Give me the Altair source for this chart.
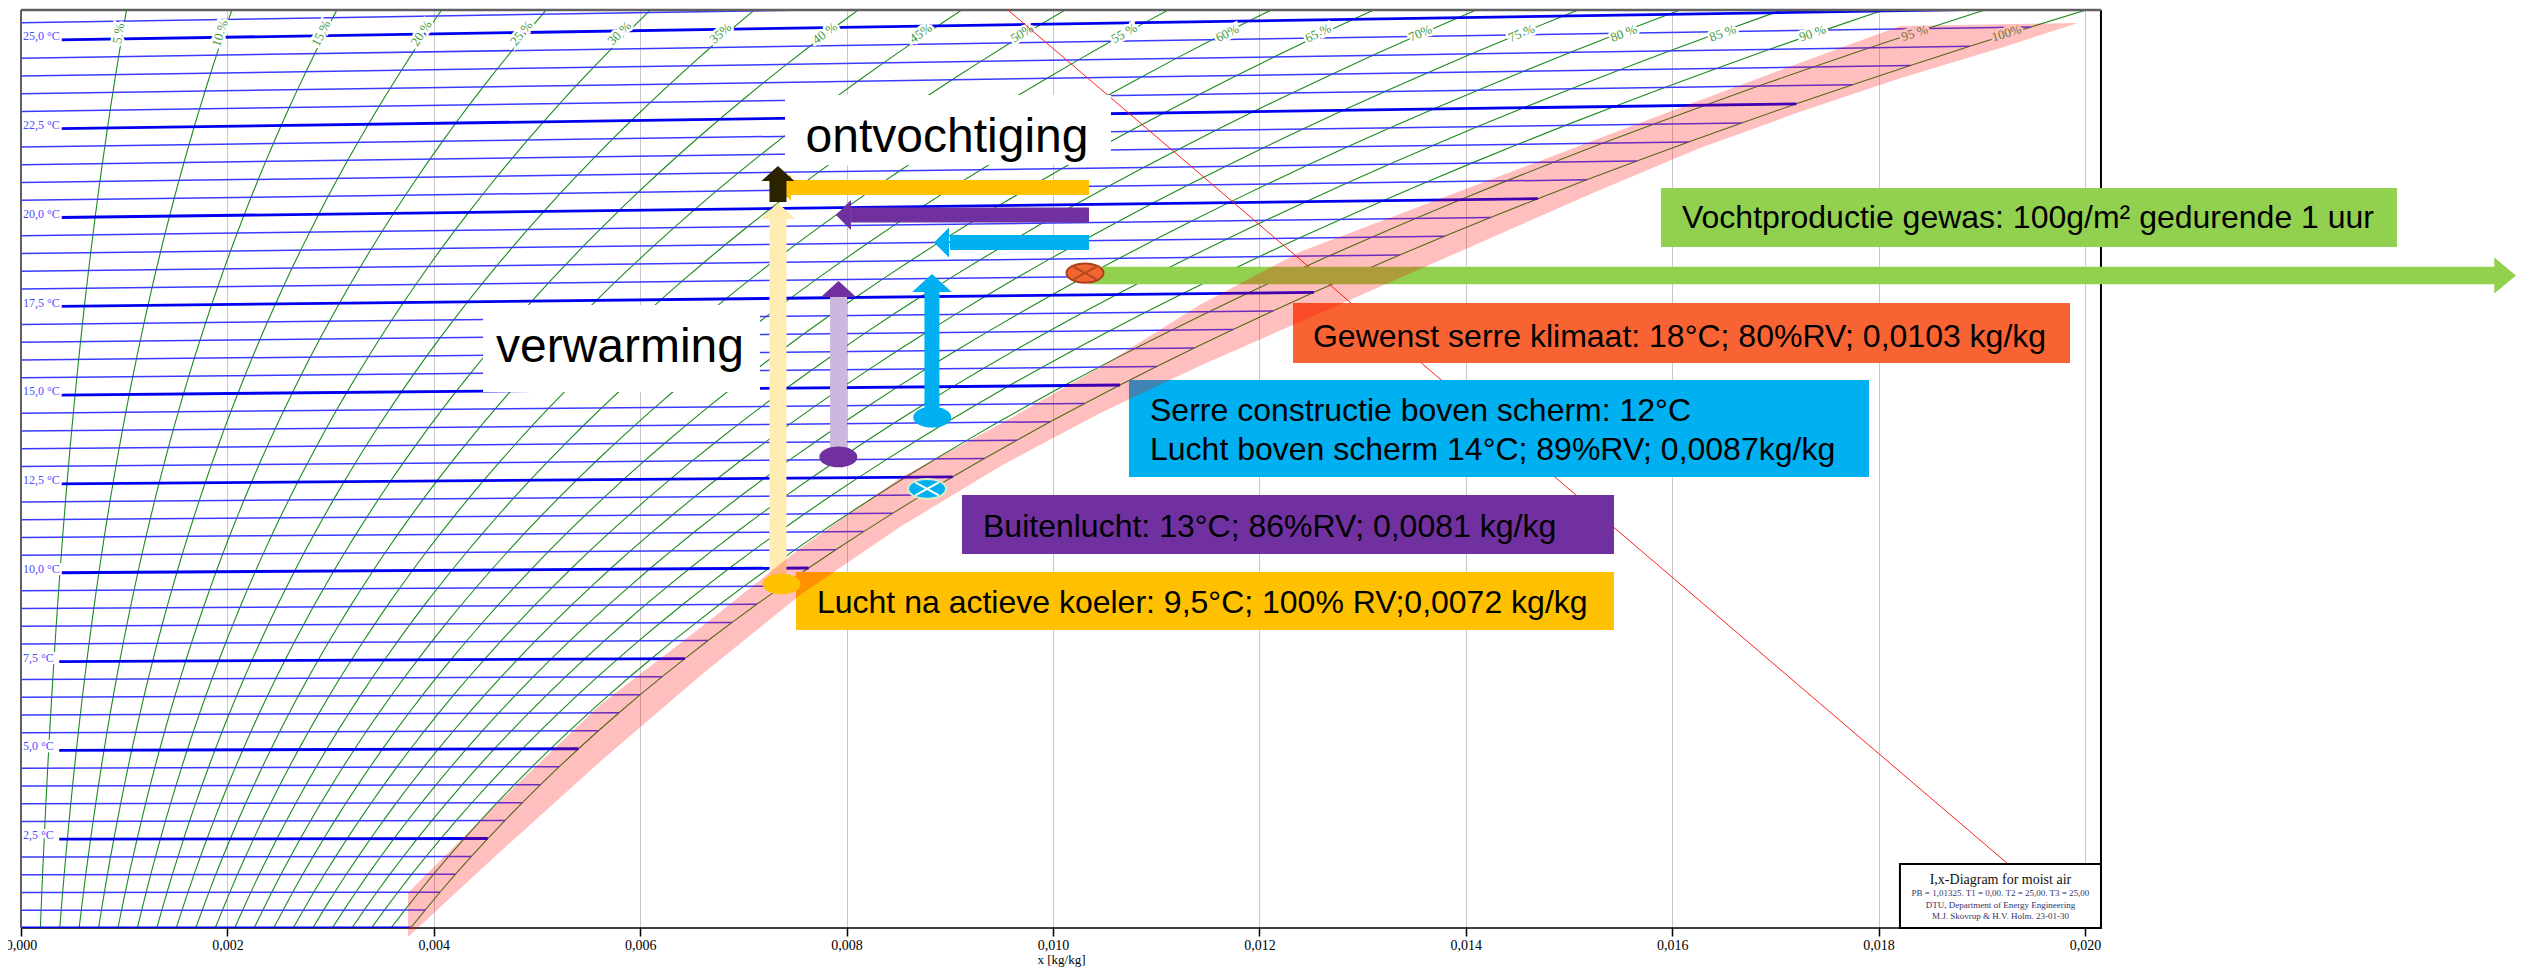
import math
import altair as alt
import pandas as pd

# ---------------- data ----------------
P_ATM = 101.325            # kPa
SKEW = 1.86 / 1.006        # Mollier skew of the isotherms

iso_temps = [0.0, 0.5, 1.0, 1.5, 2.0, 2.5, 3.0, 3.5, 4.0, 4.5, 5.0, 5.5, 6.0, 6.5, 7.0, 7.5,
             8.0, 8.5, 9.0, 9.5, 10.0, 10.5, 11.0, 11.5, 12.0, 12.5, 13.0, 13.5, 14.0, 14.5,
             15.0, 15.5, 16.0, 16.5, 17.0, 17.5, 18.0, 18.5, 19.0, 19.5, 20.0, 20.5, 21.0,
             21.5, 22.0, 22.5, 23.0, 23.5, 24.0, 24.5, 25.0, 25.5, 26.0]
sat_pressure_kpa = [0.6112, 0.6339, 0.6571, 0.6809, 0.7060, 0.7315, 0.7581, 0.7853, 0.8135,
                    0.8425, 0.8725, 0.9034, 0.9353, 0.9682, 1.0021, 1.0372, 1.0730, 1.1103,
                    1.1482, 1.1878, 1.2282, 1.2700, 1.3129, 1.3573, 1.4028, 1.4497, 1.4981,
                    1.5480, 1.5989, 1.6516, 1.7057, 1.7615, 1.8188, 1.8778, 1.9383, 2.0006,
                    2.0647, 2.1305, 2.1982, 2.2677, 2.3392, 2.4126, 2.4881, 2.5656, 2.6452,
                    2.7270, 2.8110, 2.8972, 2.9856, 3.0766, 3.1699, 3.2657, 3.3640]
rh_levels = [5, 10, 15, 20, 25, 30, 35, 40, 45, 50, 55, 60, 65, 70, 75, 80, 85, 90, 95, 100]
rh_label_x = [0.000946, 0.00193, 0.00291, 0.00388, 0.00485, 0.00580, 0.00678, 0.00779,
              0.00872, 0.00970, 0.01069, 0.01169, 0.01257, 0.01356, 0.01454, 0.01553,
              0.01649, 0.01736, 0.01835, 0.01924]
rh_label_text = ["5 %", "10 %", "15 %", "20 %", "25 %", "30 %", "35%", "40 %", "45%", "50%",
                 "55 %", "60%", "65 %", "70%", "75 %", "80 %", "85 %", "90 %", "95 %", "100%"]
RH_LABEL_Y = 25.2
temp_label_values = [2.5, 5.0, 7.5, 10.0, 12.5, 15.0, 17.5, 20.0, 22.5, 25.0]
temp_label_text = ["2,5 °C", "5,0 °C", "7,5 °C", "10,0 °C", "12,5 °C", "15,0 °C",
                   "17,5 °C", "20,0 °C", "22,5 °C", "25,0 °C"]
x_tick_values = [0.000, 0.002, 0.004, 0.006, 0.008, 0.010, 0.012, 0.014, 0.016, 0.018, 0.020]

# pink band along the saturation curve
band_x = [0.00375, 0.00464, 0.00561, 0.00658, 0.00755, 0.00852, 0.00949, 0.01046, 0.01142,
          0.01239, 0.01336, 0.01433, 0.01530, 0.01627, 0.01724, 0.01821, 0.01918, 0.01993]
band_upper = [0.99, 3.58, 6.28, 8.45, 10.70, 12.68, 14.20, 15.80, 17.55, 19.04, 20.11, 21.18,
              22.25, 23.32, 24.37, 25.41, 25.46, 25.49]
band_lower = [-0.25, 2.14, 4.68, 7.10, 9.38, 11.30, 13.01, 14.51, 15.83, 17.07, 18.31, 19.55,
              20.79, 21.97, 22.99, 23.94, 24.79, 25.49]

# state points (ellipses)
marker_x = [0.01031, 0.00792, 0.00883, 0.00878, 0.00737]
marker_y = [18.45, 13.27, 14.39, 12.37, 9.69]
marker_fill = ["#F26430", "#7030A0", "#00B0F0", "#00B0F0", "#FFC000"]
marker_stroke = ["#A8401E", "#7030A0", "#00B0F0", "#D6EBC6", "#FFC000"]
marker_size = [1369, 1296, 1296, 1444, 1296]

# coloured text boxes
box_x = [0.015891, 0.012326, 0.010736, 0.009118, 0.007510]
box_x2 = [0.023023, 0.019855, 0.017907, 0.015436, 0.015436]
box_y = [20.845, 17.606, 15.437, 12.197, 10.028]
box_y2 = [19.183, 15.915, 12.704, 10.535, 8.394]
box_color = ["#92D050", "#F86333", "#00B0F0", "#7030A0", "#FFC000"]
box_text = ["Vochtproductie gewas: 100g/m² gedurende 1 uur",
            "Gewenst serre klimaat: 18°C; 80%RV; 0,0103 kg/kg",
            "Serre constructie boven scherm: 12°C",
            "Lucht boven scherm 14°C; 89%RV;  0,0087kg/kg",
            "Buitenlucht: 13°C; 86%RV; 0,0081 kg/kg",
            "Lucht na actieve koeler: 9,5°C; 100% RV;0,0072 kg/kg"]
box_text_x = [0.016095, 0.012519, 0.010940, 0.010940, 0.009322, 0.007713]
box_text_y = [19.71, 16.37, 14.27, 13.18, 11.02, 8.86]

# big labels with white backgrounds
big_text = ["ontvochtiging", "verwarming"]
big_text_x = [0.008973, 0.005804]
big_text_y = [21.868, 15.94]
white_x = [0.007403, 0.004477]
white_x2 = [0.010562, 0.007161]
white_y = [23.465, 17.55]
white_y2 = [21.493, 15.10]

# horizontal arrows: shaft start (head base), shaft end, y, width, colour, head tip
harrow_x = [0.007461, 0.008043, 0.009002]
harrow_x2 = [0.010349, 0.010349, 0.010349]
harrow_y = [20.856, 20.085, 19.31]
harrow_w = [15, 15, 15]
harrow_col = ["#FFC000", "#7030A0", "#00B0F0"]
harrow_tip = [0.007335, 0.007897, 0.008847]
harrow_size = [676, 900, 900]
green_arrow = dict(x=0.010349, x2=0.02398, y=18.38, tip=0.024176)

# vertical arrows
varrow_x = [0.007335, 0.007335, 0.007922, 0.008827]
varrow_y = [9.69, 20.45, 13.27, 14.39]
varrow_y2 = [20.02, 21.05, 17.80, 17.95]
varrow_w = [17, 17, 17, 15]
varrow_col = ["#FFECB3", "#2B2200", "#CDB7DE", "#00B0F0"]
varrow_tip = [20.42, 21.465, 18.225, 18.42]
varrow_head_col = ["#FFECB3", "#2B2200", "#7030A0", "#00B0F0"]
varrow_size = [1024, 900, 1024, 1296]

red_line = dict(x=0.009564, y=25.859, x2=0.019254, y2=1.803)

info_box = dict(x=0.018207, x2=0.020155, y=1.803, y2=0.0)
info_text = ["I,x-Diagram for moist air",
             "PB = 1,01325. T1 = 0,00. T2 = 25,00. T3 = 25,00",
             "DTU, Department of Energy Engineering",
             "M.J. Skovrup & H.V. Holm. 23-01-30"]
info_text_y = [1.36, 0.99, 0.65, 0.33]
info_text_size = [14, 9, 9, 9]
info_text_color = ["#111111", "#333366", "#333366", "#333366"]

# ---------------- geometry ----------------
X_MAX = 0.024196
Y_MAX = 25.859
FRAME_X = 0.020155
LABEL_GAP = 0.00037
W, H = 2497, 918
PX_X = W / X_MAX
PX_Y = H / Y_MAX


def ratio(phi, ps):
    return 0.622 * phi * ps / (P_ATM - phi * ps)


def ymap(t, x):
    return t * (1 + SKEW * x)


iso_rows = []
for t, ps in zip(iso_temps, sat_pressure_kpa):
    if t > 25.5:
        continue
    xs = ratio(1.0, ps)
    thick = (t in temp_label_values) or t == 0
    x1 = LABEL_GAP if t in temp_label_values else 0.0
    iso_rows.append(dict(T=t, x=x1, y=ymap(t, x1), x2=xs, y2=ymap(t, xs), thick=thick))
iso_df = pd.DataFrame(iso_rows)

rh_rows = []
for phi in rh_levels:
    for t, ps in zip(iso_temps, sat_pressure_kpa):
        x = ratio(phi / 100.0, ps)
        rh_rows.append(dict(rh=phi, T=t, x=x, y=ymap(t, x)))
rh_df = pd.DataFrame(rh_rows)

i1, i2 = iso_temps.index(24.5), iso_temps.index(25.0)
lab_rows = []
for phi, lx, txt in zip(rh_levels, rh_label_x, rh_label_text):
    xa = ratio(phi / 100.0, sat_pressure_kpa[i1])
    xb = ratio(phi / 100.0, sat_pressure_kpa[i2])
    dxp = (xb - xa) * PX_X
    dyp = (ymap(25.0, xb) - ymap(24.5, xa)) * PX_Y
    ang = (360 - math.degrees(math.atan2(dyp, dxp))) % 360
    lab_rows.append(dict(x=lx, y=RH_LABEL_Y, text=txt, angle=ang))
rh_lab_df = pd.DataFrame(lab_rows)

tlab_df = pd.DataFrame(dict(x=[0.00002] * len(temp_label_values), y=temp_label_values,
                            text=temp_label_text))

# ---------------- encodings ----------------
XS = alt.Scale(domain=[0, X_MAX], nice=False, zero=False)
YS = alt.Scale(domain=[0, Y_MAX], nice=False, zero=False)
XAXIS = alt.Axis(values=x_tick_values,
                 labelExpr="replace(format(datum.value, '.3f'), '.', ',')",
                 title="x [kg/kg]", titleFont="Liberation Serif", titleFontSize=13,
                 titleFontWeight="normal", titleColor="black", titleX=1040, titleY=31,
                 titleAlign="center", titleBaseline="middle",
                 labelFont="Liberation Serif", labelFontSize=14, labelColor="black",
                 labelPadding=2, labelFlush=False, labelOverlap=False,
                 domain=False, ticks=True, tickColor="black", tickSize=8, tickWidth=1.5,
                 grid=True, gridColor="#c8c8c8", gridWidth=1)


def X(f="x"):
    return alt.X(f, type="quantitative", scale=XS, axis=XAXIS)


def Y(f="y"):
    return alt.Y(f, type="quantitative", scale=YS, axis=None)


def base(df):
    return alt.Chart(df)


layers = []

# bottom frame under isotherms
frame_h = pd.DataFrame(dict(x=[0.0], x2=[FRAME_X], y=[0.0]))
layers.append(base(frame_h).mark_rule(color="black", strokeWidth=1.5).encode(
    x=X(), x2="x2:Q", y=Y()))

# RH curves
layers.append(base(rh_df).mark_line(color="#1c8a1c", strokeWidth=1.1, clip=True).encode(
    x=X(), y=Y(), detail="rh:N", order="T:Q"))

# isotherms
layers.append(base(iso_df[~iso_df.thick]).mark_rule(color="#3a3aff", strokeWidth=1.5, clip=True).encode(
    x=X(), x2="x2:Q", y=Y(), y2="y2:Q"))
layers.append(base(iso_df[iso_df.thick]).mark_rule(color="#0000ee", strokeWidth=2.8, clip=True).encode(
    x=X(), x2="x2:Q", y=Y(), y2="y2:Q"))

# RH labels with halo
layers.append(base(rh_lab_df).mark_text(font="Liberation Serif", fontSize=13, stroke="white",
                                        strokeWidth=5, color="white").encode(
    x=X(), y=Y(), text="text:N", angle=alt.Angle("angle:Q", scale=None)))
layers.append(base(rh_lab_df).mark_text(font="Liberation Serif", fontSize=13, color="#3f9a3f").encode(
    x=X(), y=Y(), text="text:N", angle=alt.Angle("angle:Q", scale=None)))

# temperature labels with halo
layers.append(base(tlab_df).mark_text(font="Liberation Serif", fontSize=12, align="left", dy=-4,
                                      stroke="white", strokeWidth=5, color="white").encode(
    x=X(), y=Y(), text="text:N"))
layers.append(base(tlab_df).mark_text(font="Liberation Serif", fontSize=12, align="left", dy=-4,
                                      color="#4d4dff").encode(
    x=X(), y=Y(), text="text:N"))

# white cover right of the frame
cover = pd.DataFrame(dict(x=[FRAME_X], x2=[X_MAX], y=[0.0], y2=[Y_MAX + 0.5]))
layers.append(base(cover).mark_rect(color="white", clip=True).encode(
    x=X(), x2="x2:Q", y=Y(), y2="y2:Q"))

# frame
frame_v = pd.DataFrame(dict(x=[0.0, FRAME_X], y=[0.0, 0.0], y2=[Y_MAX, Y_MAX],
                            c=["#606060", "black"]))
layers.append(base(frame_v).mark_rule(strokeWidth=2).encode(
    x=X(), y=Y(), y2="y2:Q", color=alt.Color("c:N", scale=None)))
frame_t = pd.DataFrame(dict(x=[0.0], x2=[FRAME_X], y=[Y_MAX]))
layers.append(base(frame_t).mark_rule(color="#606060", strokeWidth=2.5).encode(
    x=X(), x2="x2:Q", y=Y()))

# red diagonal line
layers.append(base(pd.DataFrame([red_line])).mark_rule(color="#ff2020", strokeWidth=1).encode(
    x=X(), x2="x2:Q", y=Y(), y2="y2:Q"))

# white boxes + big labels
wdf = pd.DataFrame(dict(x=white_x, x2=white_x2, y=white_y, y2=white_y2))
layers.append(base(wdf).mark_rect(color="white").encode(x=X(), x2="x2:Q", y=Y(), y2="y2:Q"))
bdf = pd.DataFrame(dict(x=big_text_x, y=big_text_y, text=big_text))
layers.append(base(bdf).mark_text(font="Liberation Sans", fontSize=48, color="black",
                                  align="center", baseline="alphabetic").encode(
    x=X(), y=Y(), text="text:N"))

# horizontal arrows
hdf = pd.DataFrame(dict(x=harrow_x, x2=harrow_x2, y=harrow_y, w=harrow_w, c=harrow_col,
                        tip=harrow_tip, s=harrow_size))
for i in range(len(hdf)):
    row = hdf.iloc[[i]]
    layers.append(base(row).mark_rule(strokeWidth=float(harrow_w[i]), strokeCap="butt").encode(
        x=X(), x2="x2:Q", y=Y(), color=alt.Color("c:N", scale=None)))
layers.append(base(hdf).mark_point(shape="M0,0 L1,-1 L1,1 Z", filled=True, opacity=1).encode(
    x=X("tip"), y=Y(), color=alt.Color("c:N", scale=None), size=alt.Size("s:Q", scale=None)))

# green arrow
gdf = pd.DataFrame([green_arrow])
layers.append(base(gdf).mark_rule(strokeWidth=17.5, color="#92D050", strokeCap="butt").encode(
    x=X(), x2="x2:Q", y=Y()))
layers.append(base(gdf).mark_point(shape="M0,0 L-1.2,-1 L-1.2,1 Z", filled=True, opacity=1,
                                   color="#92D050", size=1296).encode(x=X("tip"), y=Y()))

# vertical arrows
vdf = pd.DataFrame(dict(x=varrow_x, y=varrow_y, y2=varrow_y2, w=varrow_w, c=varrow_col,
                        tip=varrow_tip, hc=varrow_head_col, s=varrow_size))
for i in range(len(vdf)):
    row = vdf.iloc[[i]]
    layers.append(base(row).mark_rule(strokeWidth=float(varrow_w[i]), strokeCap="butt").encode(
        x=X(), y=Y(), y2="y2:Q", color=alt.Color("c:N", scale=None)))
layers.append(base(vdf).mark_point(shape="M0,0 L-1.1,1 L1.1,1 Z", filled=True, opacity=1).encode(
    x=X(), y=Y("tip"), color=alt.Color("hc:N", scale=None), size=alt.Size("s:Q", scale=None)))

# coloured boxes + texts
boxdf = pd.DataFrame(dict(x=box_x, x2=box_x2, y=box_y, y2=box_y2, c=box_color))
layers.append(base(boxdf).mark_rect().encode(x=X(), x2="x2:Q", y=Y(), y2="y2:Q",
                                             color=alt.Color("c:N", scale=None)))
tdf = pd.DataFrame(dict(x=box_text_x, y=box_text_y, text=box_text))
layers.append(base(tdf).mark_text(font="Liberation Sans", fontSize=32, color="black",
                                  align="left", baseline="alphabetic").encode(
    x=X(), y=Y(), text="text:N"))

# pink band (on top of the boxes)
banddf = pd.DataFrame(dict(x=band_x, y=band_upper, y2=band_lower))
layers.append(base(banddf).mark_area(color="#ff0000", opacity=0.25).encode(
    x=X(), y=Y(), y2="y2:Q"))

# ellipses
ELL = ("M-1,0 C-1,-0.29 -0.552,-0.52 0,-0.52 C0.552,-0.52 1,-0.29 1,0 "
       "C1,0.29 0.552,0.52 0,0.52 C-0.552,0.52 -1,0.29 -1,0 Z")
mdf = pd.DataFrame(dict(x=marker_x, y=marker_y, f=marker_fill, st=marker_stroke, s=marker_size))
layers.append(base(mdf).mark_point(shape=ELL, filled=True, opacity=1, strokeWidth=2).encode(
    x=X(), y=Y(), fill=alt.Fill("f:N", scale=None), stroke=alt.Stroke("st:N", scale=None),
    size=alt.Size("s:Q", scale=None)))
CROSS = "M-0.62,-0.34 L0.62,0.34 M-0.62,0.34 L0.62,-0.34"
xdf = pd.DataFrame(dict(x=[marker_x[0], marker_x[3]], y=[marker_y[0], marker_y[3]],
                        st=["#B04A22", "white"], s=[marker_size[0], marker_size[3]]))
layers.append(base(xdf).mark_point(shape=CROSS, filled=False, opacity=1, strokeWidth=2).encode(
    x=X(), y=Y(), stroke=alt.Stroke("st:N", scale=None), size=alt.Size("s:Q", scale=None)))

# info box
layers.append(base(pd.DataFrame([info_box])).mark_rect(fill="white", stroke="black",
                                                        strokeWidth=2).encode(
    x=X(), x2="x2:Q", y=Y(), y2="y2:Q"))
idf = pd.DataFrame(dict(x=[(info_box["x"] + info_box["x2"]) / 2] * 4, y=info_text_y,
                        text=info_text, fs=info_text_size, c=info_text_color))
layers.append(base(idf).mark_text(font="Liberation Serif", align="center", baseline="middle").encode(
    x=X(), y=Y(), text="text:N", size=alt.Size("fs:Q", scale=None),
    color=alt.Color("c:N", scale=None)))

chart = alt.layer(*layers).properties(
    width=W, height=H,
    autosize=alt.AutoSizeParams(type="none"),
    padding={"left": 13, "top": 2, "right": 0, "bottom": 41},
    background="white",
).configure_view(stroke=None)

chart.save("out.html", embed_options={"renderer": "svg", "actions": False})
